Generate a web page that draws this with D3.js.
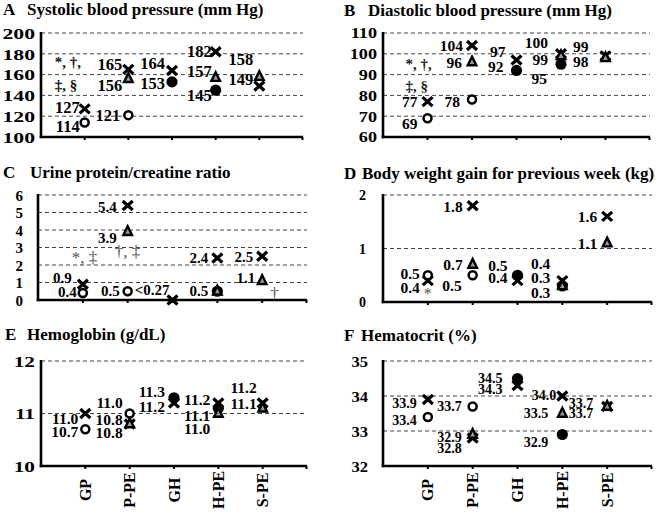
<!DOCTYPE html>
<html>
<head>
<meta charset="utf-8">
<script src="https://cdn.jsdelivr.net/npm/d3@7"></script>
<style>
  body { margin: 0; background: #fff; }
  svg { display: block; font-family: "Liberation Serif", "Times New Roman", serif; font-weight: bold; }
</style>
</head>
<body>
<svg id="chart" width="660" height="516"></svg>
<script>
var categories = ["GP", "P-PE", "GH", "H-PE", "S-PE"];

// A  systolic blood pressure
var sbpTicks  = [100, 120, 140, 160, 180, 200];
var sbpOpen   = [114, 121, null, null, null];
var sbpCross  = [127, 165, 164, 182, 149];
var sbpTri    = [null, 156, null, 157, 158];
var sbpFilled = [null, null, 153, 145, null];
var sbpNotes  = ["*, †,", "‡, §"];

// B  diastolic blood pressure
var dbpTicks  = [60, 70, 80, 90, 100, 110];
var dbpOpen   = [69, 78, null, null, null];
var dbpCross  = [77, 104, 97, 100, 99];
var dbpTri    = [null, 96, null, 99, 98];
var dbpFilled = [null, null, 92, 95, null];
var dbpNotes  = ["*, †,", "‡, §"];

// C  urine protein / creatinine
var upcTicks  = [0, 1, 2, 3, 4, 5, 6];
var upcOpen   = [0.4, 0.5, null, null, null];
var upcCross  = [0.9, 5.4, 0, 2.4, 2.5];
var upcTri    = [null, 3.9, null, 0.5, 1.1];
var upcFilled = [null, null, null, 0.5, null];
var upcText   = [null, null, "<0.27", null, null];   // cross label override
var upcNotes  = ["*, ‡", "†, ‡", "†"];

// D  body weight gain
var bwTicks  = [0, 1, 2];
var bwOpen   = [0.5, 0.5, null, null, null];
var bwCross  = [0.4, 1.8, 0.4, 0.4, 1.6];
var bwTri    = [null, 0.7, null, 0.3, 1.1];
var bwFilled = [null, null, 0.5, 0.3, null];
var bwNotes  = ["*"];

// E  hemoglobin
var hbTicks  = [10, 11, 12];
var hbOpen   = [10.7, 11.0, null, null, null];
var hbCross  = [11.0, 10.8, 11.2, 11.2, 11.2];
var hbTri    = [null, 10.8, null, 11.0, 11.1];
var hbFilled = [null, null, 11.3, 11.1, null];

// F  hematocrit
var htTicks  = [32, 33, 34, 35];
var htOpen   = [33.4, 33.7, null, null, null];
var htCross  = [33.9, 32.8, 34.3, 34.0, 33.7];
var htTri    = [null, 32.9, null, 33.5, 33.7];
var htFilled = [null, null, 34.5, 32.9, null];

var panels = [
  {key: "A", title: "Systolic blood pressure (mm Hg)", ticks: sbpTicks, fmt: "d",
   open: sbpOpen, cross: sbpCross, tri: sbpTri, filled: sbpFilled, notes: sbpNotes},
  {key: "B", title: "Diastolic blood pressure (mm Hg)", ticks: dbpTicks, fmt: "d",
   open: dbpOpen, cross: dbpCross, tri: dbpTri, filled: dbpFilled, notes: dbpNotes},
  {key: "C", title: "Urine protein/creatine ratio", ticks: upcTicks, fmt: ".1f",
   open: upcOpen, cross: upcCross, tri: upcTri, filled: upcFilled, notes: upcNotes, crossText: upcText},
  {key: "D", title: "Body weight gain for previous week (kg)", ticks: bwTicks, fmt: ".1f",
   open: bwOpen, cross: bwCross, tri: bwTri, filled: bwFilled, notes: bwNotes},
  {key: "E", title: "Hemoglobin (g/dL)", ticks: hbTicks, fmt: ".1f",
   open: hbOpen, cross: hbCross, tri: hbTri, filled: hbFilled, notes: [], xlabels: true},
  {key: "F", title: "Hematocrit (%)", ticks: htTicks, fmt: ".1f",
   open: htOpen, cross: htCross, tri: htTri, filled: htFilled, notes: [], xlabels: true}
];

// plot boxes and text sizes
var layout = {
  A: {x0: 41,  x1: 303, yb: 137, yt: 33,  lx: 3,   tx: 27,  ty: 15,  tick: 15, sx: 1.45, gap: 6,  lab: 16.5},
  B: {x0: 383, x1: 650, yb: 137, yt: 33,  lx: 344, tx: 368, ty: 16,  tick: 14, sx: 1.3,  gap: 6,  lab: 15.5},
  C: {x0: 38,  x1: 307, yb: 300, yt: 195, lx: 3,   tx: 30,  ty: 178, tick: 15, sx: 1.0,  gap: 15, lab: 15},
  D: {x0: 383, x1: 652, yb: 302, yt: 195, lx: 344, tx: 362, ty: 179, tick: 14, sx: 1.0,  gap: 17, lab: 15.5},
  E: {x0: 41,  x1: 307, yb: 466, yt: 361, lx: 5,   tx: 27,  ty: 340, tick: 15, sx: 1.42, gap: 6,  lab: 15.5},
  F: {x0: 383, x1: 652, yb: 466, yt: 361, lx: 344, tx: 361, ty: 341, tick: 15, sx: 1.1,  gap: 15, lab: 14}
};

// label offsets from the marker [dx, dy], per category; null = no label
var nudge = {
  A: {open: [[-5, 4], [-8, 0]], cross: [[-5, -2], [-6, -5], [-7, -7], [-4, 0], [-6, -7]],
      tri: [null, [-6, 6], null, [-4, -6], [-6, -17]], filled: [null, null, [-7, 1], [-4, 5]]},
  B: {open: [[-10, 5], [-12, 2]], cross: [[-10, 0], [-9, 0], [-11, -8], [-13, -11], [-17, -9]],
      tri: [null, [-10, 0], null, [-13, 4], [-17, 4]], filled: [null, null, [-13, -4], [-14, 14]]},
  C: {open: [[-6, -1], [-8, -1]], cross: [[-11, -7], [-11, 1], [-3, -10], [-9, 0], [-9, 0]],
      tri: [null, [-11, 6], null, null, [-7, -3]], filled: [null, null, null, [-9, -1]]},
  D: {open: [[-8, -2], [-11, 10]], cross: [[-8, 7], [-10, 1], [-10, -3], [-12, -17], [-10, 0]],
      tri: [null, [-10, 0], null, [-12, 7], [-10, 0]], filled: [null, null, [-10, -10], [-12, -8]]},
  E: {open: [[-7, 2], [-7, -11]], cross: [[-7, 5], [-7, -4], [-9, 4], [-8, -3], [-6, -15]],
      tri: [null, [-7, 9], null, [-8, 15], [-6, -5]], filled: [null, null, [-9, -6], [-8, 7]]},
  F: {open: [[-11, 3], [-11, 0]], cross: [[-11, 4], [-11, 10], [-15, 4], [-6, -1], [-14, -3]],
      tri: [null, [-11, 3], null, [-14, 0], [-14, 7]], filled: [null, null, [-15, 0], [-14, 8]]}
};

// annotation anchors [category index, value, dx]
var noteAt = {
  A: [[0, 172, -30], [0, 150, -30]],
  B: [[0, 95, -22], [0, 84.5, -22]],
  C: [[0, 2.46, -11], [1, 2.8, -13], [4, 0.4, 8]],
  D: [[0, 0.17, -4]]
};
var noteStyle = {A: ["#111", "bold", 15], B: ["#222", "bold", 15], C: ["#555", "normal", 17], D: ["#555", "normal", 16]};

var svg = d3.select("#chart");

var crossPath = "M-5,-4.5L5,4.5M-5,4.5L5,-4.5";
var triPath = "M0,-5.5L4.3,3.2L-4.3,3.2Z";

panels.forEach(function(p) {
  var L = layout[p.key];
  var g = svg.append("g");
  var x = d3.scalePoint().domain(categories).range([L.x0, L.x1]).padding(1);
  var y = d3.scaleLinear().domain([p.ticks[0], p.ticks[p.ticks.length - 1]]).range([L.yb, L.yt]);
  var fmt = d3.format(p.fmt);

  // title
  g.append("text").attr("x", L.lx).attr("y", L.ty).attr("font-size", 17).text(p.key);
  g.append("text").attr("x", L.tx).attr("y", L.ty).attr("font-size", 17).text(p.title);

  // dashed grid
  g.selectAll(".grid").data(p.ticks.slice(1)).enter().append("line")
    .attr("x1", L.x0).attr("x2", L.x1)
    .attr("y1", function(d) { return y(d); }).attr("y2", function(d) { return y(d); })
    .attr("stroke", "#444").attr("stroke-width", 1).attr("stroke-dasharray", "4,3");

  // y tick labels
  var ax = g.append("g").attr("transform", "translate(" + L.x0 + ",0)")
    .call(d3.axisLeft(y).tickValues(p.ticks).tickSize(0).tickFormat(d3.format("d")));
  ax.select(".domain").remove();
  ax.selectAll("text")
    .attr("font-family", "Liberation Serif, serif").attr("font-weight", "bold")
    .attr("font-size", L.tick).attr("fill", "#000")
    .attr("x", -L.gap / L.sx).attr("dy", "0.35em")
    .attr("transform", "scale(" + L.sx + ",1)");

  // axes
  g.append("line").attr("x1", L.x0).attr("x2", L.x0).attr("y1", L.yt - 1).attr("y2", L.yb + 1.2)
    .attr("stroke", "#000").attr("stroke-width", 2.6);
  g.append("line").attr("x1", L.x0 - 1.3).attr("x2", L.x1).attr("y1", L.yb).attr("y2", L.yb)
    .attr("stroke", "#000").attr("stroke-width", 2.6);
  g.selectAll(".tk").data(categories.concat(["end"])).enter().append("line")
    .attr("x1", function(d) { return d === "end" ? L.x1 - 0.5 : x(d); })
    .attr("x2", function(d) { return d === "end" ? L.x1 - 0.5 : x(d); })
    .attr("y1", L.yb).attr("y2", L.yb + 3)
    .attr("stroke", "#000").attr("stroke-width", 2);

  // category labels
  if (p.xlabels) {
    categories.forEach(function(c) {
      g.append("text")
        .attr("transform", "translate(" + (x(c) + 5.5) + "," + (L.yb + 24) + ") rotate(-90)")
        .attr("text-anchor", "middle").attr("font-size", 16).text(c);
    });
  }

  // markers
  function pts(vals) {
    return vals.map(function(v, i) { return {v: v, i: i}; }).filter(function(d) { return d.v !== null; });
  }
  g.selectAll(".cross").data(pts(p.cross)).enter().append("path")
    .attr("d", crossPath)
    .attr("transform", function(d) { return "translate(" + x(categories[d.i]) + "," + y(d.v) + ")"; })
    .attr("stroke", "#000").attr("stroke-width", 3.2).attr("fill", "none");
  g.selectAll(".filled").data(pts(p.filled)).enter().append("circle")
    .attr("cx", function(d) { return x(categories[d.i]); }).attr("cy", function(d) { return y(d.v); })
    .attr("r", 5.6).attr("fill", "#000");
  g.selectAll(".tri").data(pts(p.tri)).enter().append("path")
    .attr("d", triPath)
    .attr("transform", function(d) { return "translate(" + x(categories[d.i]) + "," + y(d.v) + ")"; })
    .attr("stroke", "#000").attr("stroke-width", 2.4).attr("stroke-linejoin", "miter").attr("fill", "#999");
  g.selectAll(".open").data(pts(p.open)).enter().append("circle")
    .attr("cx", function(d) { return x(categories[d.i]); }).attr("cy", function(d) { return y(d.v); })
    .attr("r", 4).attr("fill", "#fff").attr("stroke", "#000").attr("stroke-width", 2.5);

  // value labels
  ["open", "cross", "tri", "filled"].forEach(function(s) {
    var off = nudge[p.key][s];
    pts(p[s]).forEach(function(d) {
      var o = off[d.i];
      if (!o) return;
      var txt = (s === "cross" && p.crossText && p.crossText[d.i]) ? p.crossText[d.i] : fmt(d.v);
      g.append("text")
        .attr("x", x(categories[d.i]) + o[0]).attr("y", y(d.v) + o[1])
        .attr("dy", "0.35em").attr("text-anchor", "end")
        .attr("font-size", L.lab).text(txt);
    });
  });

  // significance notes
  (p.notes || []).forEach(function(t, k) {
    var a = noteAt[p.key][k];
    var st = noteStyle[p.key];
    g.append("text")
      .attr("x", x(categories[a[0]]) + a[2]).attr("y", y(a[1]))
      .attr("dy", "0.35em").attr("font-size", st[2])
      .attr("fill", st[0]).attr("font-weight", st[1]).text(t);
  });
});
</script>
</body>
</html>
